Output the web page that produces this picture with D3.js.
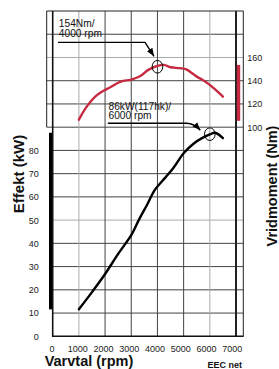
<!DOCTYPE html>
<html><head><meta charset="utf-8">
<script src="https://cdn.jsdelivr.net/npm/d3@7/dist/d3.min.js"></script>
<style>
html,body{margin:0;padding:0;background:#fff;}
svg{display:block;font-family:"Liberation Sans",Arial,Helvetica,sans-serif;}
</style></head>
<body>
<svg id="c" width="279" height="369"></svg>
<script>
// ---- data ----
const rpmTicks = [0,1000,2000,3000,4000,5000,6000,7000];
const powerTicks = [0,10,20,30,40,50,60,70,80];
const torqueTicks = [100,120,140,160];
const gridKw = [10,20,30,40,50,60,70,80,90,100,110,120,130];
const powerRpm = [1000,1500,2000,2500,3000,3300,3600,3900,4300,4600,5000,5400,5700,6000,6200,6500];
const powerKw  = [11.6,19,26.8,35.5,43.5,50.3,56.5,63,68.3,72.3,78.8,83.1,85.3,86.9,87.6,85.3];
const torqueRpm = [1000,1300,1700,2200,2600,3000,3350,3650,4000,4250,4500,4850,5100,5500,5700,6000,6300,6500];
const torqueNm  = [106.5,117.7,127.8,134.4,139.2,141,144,149.3,152.7,153.6,151.6,150.8,149.8,143.5,141,136.4,130.6,126.3];
const peakTorque = {rpm:4000, nm:152, label:["154Nm/","4000 rpm"]};
const peakPower = {rpm:6000, kw:87, label:["86kW(117hk)/","6000 rpm"]};

const RED = "#c62a40";
const svg = d3.select("#c");

const x = d3.scaleLinear().domain([0,7000]).range([52.7,236]);
const xLab = d3.scaleLinear().domain([0,7000]).range([51.5,231.8]);
const yP = d3.scaleLinear().domain([0,140]).range([336.3,11]);
const yT = d3.scaleLinear().domain([-80,200]).range([336.3,11]);
const frameR = 243.3, frameL = 46.7;

// grid
const light = new Set([50,120]);
svg.append("g").selectAll("line").data(gridKw).join("line")
  .attr("x1", d => d>=90 ? frameL : x(0)).attr("x2", frameR)
  .attr("y1", d => yP(d)).attr("y2", d => yP(d))
  .attr("stroke", d => light.has(d) ? "#aaa" : "#444").attr("stroke-width",1);
const lightV = new Set([1000,6000]);
svg.append("g").selectAll("line").data(rpmTicks.filter(d=>d>0 && d<7000)).join("line")
  .attr("x1", d=>x(d)).attr("x2", d=>x(d)).attr("y1", yP(140)).attr("y2", yP(0))
  .attr("stroke", d => lightV.has(d) ? "#aaa" : "#444").attr("stroke-width",1);
// frame
svg.append("line").attr("x1",frameL).attr("x2",frameR).attr("y1",yP(140)).attr("y2",yP(140)).attr("stroke","#222");
svg.append("line").attr("x1",frameL).attr("x2",frameL).attr("y1",yP(140)).attr("y2",yT(100)).attr("stroke","#222");
svg.append("line").attr("x1",frameR).attr("x2",frameR).attr("y1",yP(140)).attr("y2",yP(0)+0.5).attr("stroke","#222");
svg.append("line").attr("x1",x(7000)).attr("x2",x(7000)).attr("y1",yP(140)).attr("y2",yP(0)).attr("stroke","#222").attr("stroke-width",2);
svg.append("line").attr("x1",x(0)).attr("x2",x(0)).attr("y1",yP(140)).attr("y2",yP(0)+0.8).attr("stroke","#111").attr("stroke-width",1.6);
svg.append("line").attr("x1",x(0)).attr("x2",frameR).attr("y1",yP(0)).attr("y2",yP(0)).attr("stroke","#111").attr("stroke-width",1.6);

// range bars
const pExt = d3.extent(powerKw), tExt = d3.extent(torqueNm);
svg.append("rect").attr("x",49).attr("width",3).attr("y",yP(pExt[1])).attr("height",yP(pExt[0])-yP(pExt[1])).attr("fill","#000");
svg.append("rect").attr("x",236.8).attr("width",3.4).attr("y",yT(tExt[1])).attr("height",yT(tExt[0]-1)-yT(tExt[1])).attr("fill",RED);

// axes
const fs = 9;
const axL = svg.append("g").attr("transform",`translate(${x(0)},0)`)
  .call(d3.axisLeft(yP).tickValues(powerTicks).tickSize(0).tickPadding(14).tickFormat(d3.format("d")));
const axR = svg.append("g").attr("transform",`translate(${frameR},0)`)
  .call(d3.axisRight(yT).tickValues(torqueTicks).tickSize(0).tickPadding(4).tickFormat(d3.format("d")));
const axB = svg.append("g").attr("transform",`translate(0,${yP(0)})`)
  .call(d3.axisBottom(xLab).tickValues(rpmTicks).tickSize(0).tickPadding(9).tickFormat(d3.format("d")));
[axL,axR,axB].forEach(a=>{ a.select(".domain").remove();
  a.selectAll("text").attr("font-size",fs).attr("fill","#222").attr("font-family","Liberation Sans, Arial, sans-serif");});

// curves
const line = d3.line().curve(d3.curveCatmullRom.alpha(0.5));
svg.append("path").attr("d", line(torqueRpm.map((r,i)=>[x(r),yT(torqueNm[i])])))
  .attr("fill","none").attr("stroke",RED).attr("stroke-width",2.4).attr("stroke-linecap","round");
svg.append("path").attr("d", line(powerRpm.map((r,i)=>[x(r),yP(powerKw[i])])))
  .attr("fill","none").attr("stroke","#000").attr("stroke-width",2.4).attr("stroke-linecap","round");

// markers
const defs = svg.append("defs");
defs.append("marker").attr("id","ah").attr("markerUnits","userSpaceOnUse")
  .attr("viewBox","0 -4 8 8").attr("refX",8).attr("refY",0).attr("markerWidth",8).attr("markerHeight",8)
  .attr("orient","auto").append("path").attr("d","M0,-3.2L8,0L0,3.2Z").attr("fill","#000");

// annotation 1 (torque)
{
  const cx = x(peakTorque.rpm), cy = yT(peakTorque.nm);
  svg.append("ellipse").attr("cx",cx).attr("cy",cy).attr("rx",5.3).attr("ry",6.3)
    .attr("fill","none").attr("stroke","#000").attr("stroke-width",1);
  svg.append("path").attr("d",`M${cx-99.5},${cy-24.4}H${cx-12.4}L${cx-3.4},${cy-10.5}`)
    .attr("fill","none").attr("stroke","#000").attr("stroke-width",1.4).attr("marker-end","url(#ah)");
  const t = svg.append("text").attr("x",cx-98.6).attr("y",cy-39.5).attr("font-size",10.2).attr("fill","#111");
  t.append("tspan").attr("x",cx-98.6).text(peakTorque.label[0]);
  t.append("tspan").attr("x",cx-98.6).attr("dy",10).text(peakTorque.label[1]);
}
// annotation 2 (power)
{
  const cx = x(peakPower.rpm), cy = yP(peakPower.kw);
  svg.append("ellipse").attr("cx",cx).attr("cy",cy).attr("rx",5.3).attr("ry",6.3)
    .attr("fill","none").attr("stroke","#000").attr("stroke-width",1);
  svg.append("path").attr("d",`M${cx-102},${cy-10.9}H${cx-23}Q${cx-16},${cy-10.9} ${cx-9.5},${cy-4}`)
    .attr("fill","none").attr("stroke","#000").attr("stroke-width",1.4).attr("marker-end","url(#ah)");
  const t = svg.append("text").attr("x",cx-101.3).attr("y",cy-24.3).attr("font-size",10.2).attr("fill","#111");
  t.append("tspan").attr("x",cx-101.3).text(peakPower.label[0]);
  t.append("tspan").attr("x",cx-101.3).attr("dy",9.5).text(peakPower.label[1]);
}

// titles
svg.append("text").attr("transform","translate(24,174) rotate(-90)").attr("text-anchor","middle")
  .attr("font-size",15).attr("font-weight","bold").attr("fill","#111").text("Effekt (kW)");
svg.append("text").attr("transform","translate(277,186) rotate(-90)").attr("text-anchor","middle")
  .attr("font-size",14.5).attr("font-weight","bold").attr("fill","#111").text("Vridmoment (Nm)");
svg.append("text").attr("x",89).attr("y",366).attr("text-anchor","middle")
  .attr("font-size",14.5).attr("font-weight","bold").attr("fill","#111").text("Varvtal (rpm)");
svg.append("text").attr("x",207.5).attr("y",368).attr("font-size",9).attr("font-weight","bold").attr("fill","#111").text("EEC net");
</script>
</body></html>
